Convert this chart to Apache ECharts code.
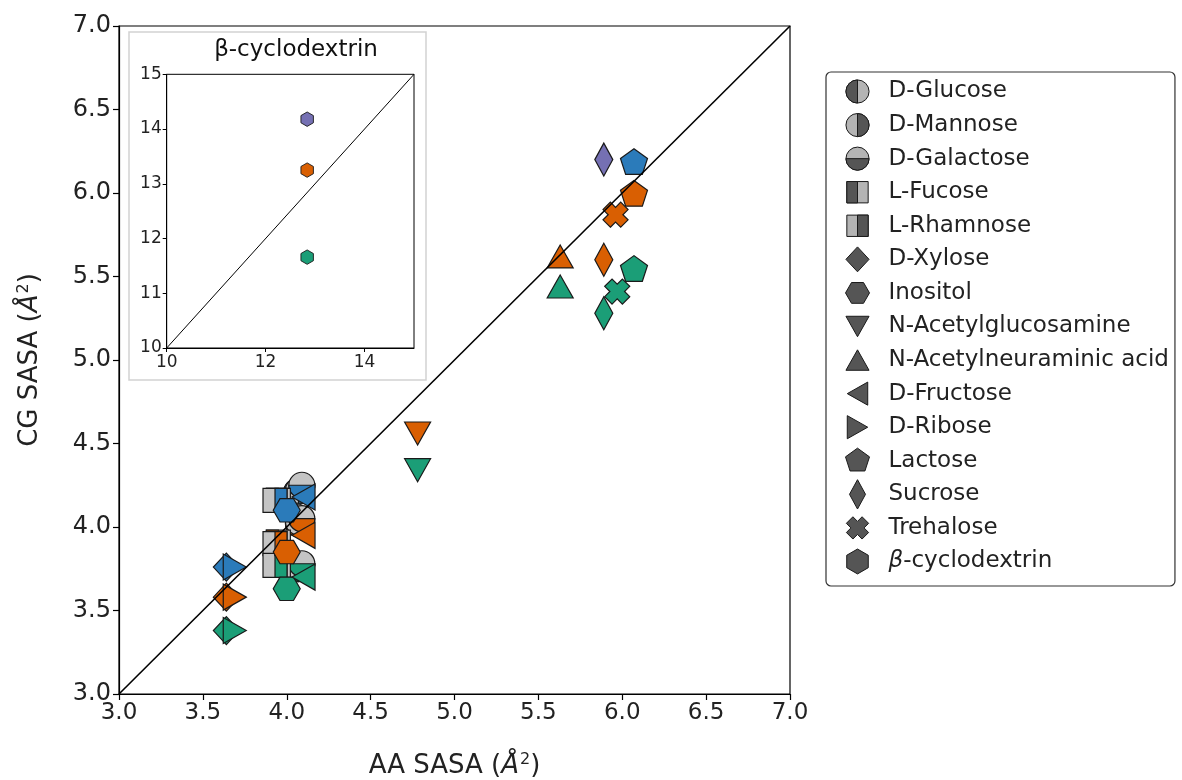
<!DOCTYPE html>
<html><head><meta charset="utf-8">
<script src="https://cdn.jsdelivr.net/npm/echarts@6/dist/echarts.min.js"></script>
<style>html,body{margin:0;padding:0;background:#fff}#chart{width:1182px;height:780px}</style>
</head><body><div id="chart"></div>
<script>
// ---------------- DATA ----------------
const molecules = ['D-Glucose','D-Mannose','D-Galactose','L-Fucose','L-Rhamnose','D-Xylose','Inositol',
  'N-Acetylglucosamine','N-Acetylneuraminic acid','D-Fructose','D-Ribose','Lactose','Sucrose','Trehalose','β-cyclodextrin'];
// AA SASA (x) and CG SASA (y) per molecule, one pair of arrays per colour group (null = not shown)
const aaBlue   = [4.06, 4.07, 4.09, 3.95, 3.93, 3.64, 4.00, null, null, 4.10, 3.69, 6.07, null, null, null];
const cgBlue   = [4.21, 4.22, 4.25, 4.16, 4.16, 3.76, 4.10, null, null, 4.18, 3.76, 6.18, null, null, null];
const aaOrange = [4.07, 4.07, 4.09, 3.95, 3.93, 3.64, 4.00, 4.78, 5.63, 4.10, 3.69, 6.07, 5.89, 5.96, null];
const cgOrange = [4.02, 4.03, 4.05, 3.91, 3.90, 3.58, 3.85, 4.56, 5.62, 3.95, 3.58, 5.99, 5.60, 5.87, null];
const aaGreen  = [4.07, 4.07, 4.09, 3.95, 3.93, 3.64, 4.00, 4.78, 5.63, 4.10, 3.69, 6.07, 5.89, 5.97, null];
const cgGreen  = [3.75, 3.76, 3.78, 3.77, 3.77, 3.38, 3.63, 4.34, 5.44, 3.70, 3.38, 5.54, 5.28, 5.41, null];
const aaPurple = [null, null, null, null, null, null, null, null, null, null, null, null, 5.89, null, null];
const cgPurple = [null, null, null, null, null, null, null, null, null, null, null, null, 6.20, null, null];
// inset: beta-cyclodextrin
const cdGroups = ['purple', 'orange', 'green'];
const cdAA = [12.84, 12.84, 12.84];
const cdCG = [14.18, 13.25, 11.66];
// axes / ticks
const mainTicks = [3.0, 3.5, 4.0, 4.5, 5.0, 5.5, 6.0, 6.5, 7.0];
const insetXTicks = [10, 12, 14];
const insetYTicks = [10, 11, 12, 13, 14, 15];
const diagMain = [3, 7];
const diagInset = [10, 15];

// ---------------- STYLE ----------------
const groupColor = {blue: '#2b7bba', orange: '#d95f02', green: '#1b9e77', purple: '#7570b3'};
const LIGHT = '#c4c4c4', EDGE = '#1a1a1a';
const LEG_DARK = '#555555', LEG_LIGHT = '#b4b4b4';
const FONT = "'DejaVu Sans', sans-serif";

const C = 18;
const fmt = n => (Math.round(n * 100) / 100).toString();
const pathOf = body => 'path://M0,0 M36,36 ' + body;
const polyBody = pts => 'M' + pts.map(p => fmt(C + p[0]) + ',' + fmt(C + p[1])).join(' L') + ' Z';
function regular(n, R, startDeg) {
  const pts = [];
  for (let k = 0; k < n; k++) { const a = (startDeg + k * 360 / n) * Math.PI / 180; pts.push([R * Math.cos(a), -R * Math.sin(a)]); }
  return pts;
}
function xCross(L, w) {
  const base = [[w,L],[w,w],[L,w],[L,-w],[w,-w],[w,-L],[-w,-L],[-w,-w],[-L,-w],[-L,w],[-w,w],[-w,L]];
  const c = Math.SQRT1_2;
  return base.map(([x, y]) => [c * (x - y), c * (x + y)]);
}
const r = 13;
const SHAPES = {
  circle: pathOf(`M${C-r},${C} A${r},${r} 0 1,1 ${C+r},${C} A${r},${r} 0 1,1 ${C-r},${C} Z`),
  halfLeft: pathOf(`M${C},${C-r} A${r},${r} 0 0,0 ${C},${C+r} Z`),
  halfRight: pathOf(`M${C},${C-r} A${r},${r} 0 0,1 ${C},${C+r} Z`),
  halfBottom: pathOf(`M${C-r},${C} A${r},${r} 0 0,0 ${C+r},${C} Z`),
  square: pathOf(polyBody([[-12,-12],[12,-12],[12,12],[-12,12]])),
  sqLeft: pathOf(polyBody([[-12,-12],[0,-12],[0,12],[-12,12]])),
  sqRight: pathOf(polyBody([[0,-12],[12,-12],[12,12],[0,12]])),
  diamond: pathOf(polyBody([[0,-14],[13,0],[0,14],[-13,0]])),
  thinDiamond: pathOf(polyBody([[0,-16.5],[9,0],[0,16.5],[-9,0]])),
  hexFlat: pathOf(polyBody(regular(6, 13.5, 0))),
  hexPointy: pathOf(polyBody(regular(6, 14, 90))),
  triDown: pathOf(polyBody([[0,11.5],[-13,-11.5],[13,-11.5]])),
  triUp: pathOf(polyBody([[0,-11.5],[13,11.5],[-13,11.5]])),
  triLeft: pathOf(polyBody([[-11.5,0],[11.5,-13],[11.5,13]])),
  triRight: pathOf(polyBody([[11.5,0],[-11.5,-13],[-11.5,13]])),
  pentagon: pathOf(polyBody(regular(5, 14.2, 90))),
  xcross: pathOf(polyBody(xCross(12.5, 5.2)))
};
const markerShape = ['circle','circle','circle','square','square','diamond','hexFlat','triDown','triUp',
  'triLeft','triRight','pentagon','thinDiamond','xcross','hexPointy'];
const halfShape = ['halfLeft','halfRight','halfBottom','sqLeft','sqRight',null,null,null,null,null,null,null,null,null,null];

const groups = [['blue', aaBlue, cgBlue], ['orange', aaOrange, cgOrange], ['green', aaGreen, cgGreen], ['purple', aaPurple, cgPurple]];

const series = [];
molecules.forEach((name, i) => {
  if (name === 'β-cyclodextrin') return;
  const pts = groups.filter(g => g[1][i] != null).map(g => ({value: [g[1][i], g[2][i]], color: groupColor[g[0]]}));
  const common = {type: 'scatter', name, symbolSize: 36, xAxisIndex: 0, yAxisIndex: 0,
    itemStyle: {borderColor: EDGE, borderWidth: 1.2, opacity: 1}, emphasis: {disabled: true}, silent: true};
  if (halfShape[i]) {
    series.push(Object.assign({}, common, {symbol: SHAPES[markerShape[i]],
      data: pts.map(p => ({value: p.value, itemStyle: {color: LIGHT}}))}));
    series.push(Object.assign({}, common, {symbol: SHAPES[halfShape[i]],
      data: pts.map(p => ({value: p.value, itemStyle: {color: p.color}}))}));
  } else {
    series.push(Object.assign({}, common, {symbol: SHAPES[markerShape[i]],
      data: pts.map(p => ({value: p.value, itemStyle: {color: p.color}}))}));
  }
});
// diagonal y = x (main)
series.push({type: 'line', name: 'diag-main', xAxisIndex: 0, yAxisIndex: 0, z: 5, symbol: 'none', silent: true,
  data: [[diagMain[0], diagMain[0]], [diagMain[1], diagMain[1]]], lineStyle: {color: '#000', width: 1.6}});
// inset
series.push({type: 'scatter', name: 'β-cyclodextrin', xAxisIndex: 1, yAxisIndex: 1, symbol: SHAPES.hexPointy,
  symbolSize: 18.5, silent: true, z: 6, itemStyle: {borderColor: EDGE, borderWidth: 0.9, opacity: 1},
  emphasis: {disabled: true},
  data: cdAA.map((x, k) => ({value: [x, cdCG[k]], itemStyle: {color: groupColor[cdGroups[k]]}}))});
series.push({type: 'line', name: 'diag-inset', xAxisIndex: 1, yAxisIndex: 1, z: 5, symbol: 'none', silent: true,
  data: [[diagInset[0], diagInset[0]], [diagInset[1], diagInset[1]]], lineStyle: {color: '#000', width: 1}});

const LEG_FS = 23;
const legendCommon = {
  orient: 'vertical', left: 826, top: 72, padding: [3, 6, 8, 15], itemWidth: 32, itemHeight: 32, itemGap: 0.57,
  selectedMode: false, borderRadius: 5,
  formatter: n => n === 'β-cyclodextrin' ? '{i|β}-cyclodextrin' : n
};
const legendTextStyle = (color) => ({fontSize: LEG_FS, fontFamily: FONT, color, padding: [0, 0, 0, 10],
  rich: {i: {fontSize: LEG_FS, fontFamily: FONT, fontStyle: 'italic', color}}});
const legend1 = Object.assign({}, legendCommon, {
  z: 10, borderColor: '#333', borderWidth: 1.2, backgroundColor: '#fff', textStyle: legendTextStyle('#222'),
  data: molecules.map((name, i) => ({name, icon: SHAPES[markerShape[i]],
    itemStyle: {color: halfShape[i] ? LEG_LIGHT : LEG_DARK, borderColor: EDGE, borderWidth: 1, opacity: 1}}))
});
const legend2 = Object.assign({}, legendCommon, {
  z: 11, borderWidth: 0, backgroundColor: 'transparent', textStyle: legendTextStyle('rgba(0,0,0,0)'),
  data: molecules.map((name, i) => halfShape[i]
    ? {name, icon: SHAPES[halfShape[i]], itemStyle: {color: LEG_DARK, borderColor: EDGE, borderWidth: 1, opacity: 1}}
    : {name, icon: SHAPES[markerShape[i]], itemStyle: {color: 'rgba(0,0,0,0)', borderColor: 'rgba(0,0,0,0)', borderWidth: 0, opacity: 0}})
});

const axisNameRich = {
  a: {fontSize: 26, fontFamily: FONT, fontStyle: 'italic', color: '#222'},
  s: {fontSize: 16, fontFamily: FONT, color: '#222', verticalAlign: 'top', padding: [0, 0, 13, 1]}
};

const option = {
  animation: false,
  backgroundColor: '#fff',
  graphic: {elements: [
    {type: 'rect', z: -1, shape: {x: 129, y: 32, width: 297, height: 348}, style: {fill: '#fff', stroke: '#d2d2d2', lineWidth: 1.5}},
    {type: 'text', z: 20, x: 296, y: 50, style: {text: 'β-cyclodextrin', align: 'center', verticalAlign: 'middle',
      fontSize: 23, fontFamily: FONT, fill: '#111'}}
  ]},
  legend: [legend1, legend2],
  grid: [
    {left: 119, top: 26, width: 671, height: 668, show: true, borderColor: '#000', borderWidth: 1.2,
      backgroundColor: 'transparent', outerBoundsMode: 'none', containLabel: false},
    {left: 166.7, top: 74.3, width: 247.3, height: 273.7, show: true, borderColor: '#000', borderWidth: 1,
      backgroundColor: '#fff', outerBoundsMode: 'none', containLabel: false}
  ],
  xAxis: [
    {type: 'value', gridIndex: 0, min: mainTicks[0], max: mainTicks[mainTicks.length - 1], interval: 0.5,
      axisLine: {lineStyle: {color: '#000', width: 1.2}}, splitLine: {show: false},
      axisTick: {inside: false, length: 6, lineStyle: {color: '#000', width: 1.2}},
      axisLabel: {fontSize: 23, fontFamily: FONT, color: '#222', margin: 8, formatter: v => v.toFixed(1)},
      name: 'AA SASA ({a|Å}{s|2})', nameLocation: 'middle', nameGap: 58,
      nameTextStyle: {fontSize: 26, fontFamily: FONT, color: '#222', rich: axisNameRich}},
    {type: 'value', gridIndex: 1, min: diagInset[0], max: diagInset[1], interval: 1,
      axisLine: {lineStyle: {color: '#000', width: 1}}, splitLine: {show: false},
      axisTick: {inside: false, length: 4, customValues: insetXTicks, lineStyle: {color: '#000'}},
      axisLabel: {fontSize: 17, fontFamily: FONT, color: '#222', margin: 6, customValues: insetXTicks}}
  ],
  yAxis: [
    {type: 'value', gridIndex: 0, min: mainTicks[0], max: mainTicks[mainTicks.length - 1], interval: 0.5,
      axisLine: {lineStyle: {color: '#000', width: 1.2}}, splitLine: {show: false},
      axisTick: {inside: false, length: 6, lineStyle: {color: '#000', width: 1.2}},
      axisLabel: {fontSize: 24, fontFamily: FONT, color: '#222', margin: 8, formatter: v => v.toFixed(1)},
      name: 'CG SASA ({a|Å}{s|2})', nameLocation: 'middle', nameGap: 74,
      nameTextStyle: {fontSize: 26, fontFamily: FONT, color: '#222', rich: axisNameRich}},
    {type: 'value', gridIndex: 1, min: diagInset[0], max: diagInset[1], interval: 1,
      axisLine: {lineStyle: {color: '#000', width: 1}}, splitLine: {show: false},
      axisTick: {inside: false, length: 4, lineStyle: {color: '#000'}},
      axisLabel: {fontSize: 17, fontFamily: FONT, color: '#222', margin: 5, customValues: insetYTicks}}
  ],
  series
};
const chart = echarts.init(document.getElementById('chart'), null, {renderer: 'canvas'});
chart.setOption(option);
</script></body></html>
